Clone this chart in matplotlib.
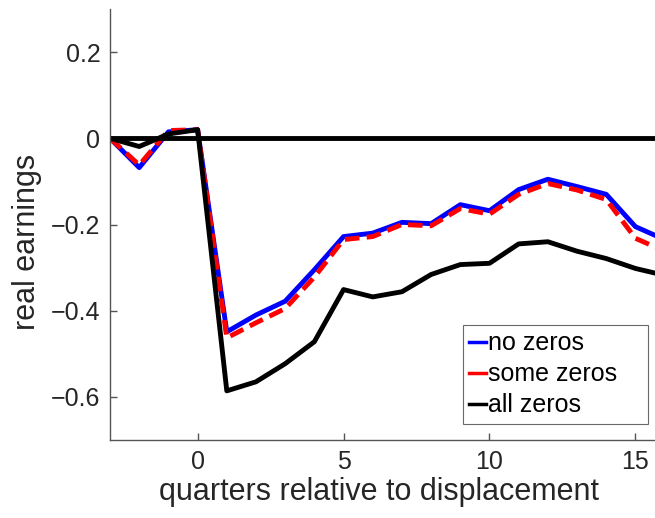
import matplotlib
matplotlib.use("Agg")
import matplotlib.pyplot as plt

# quarters relative to displacement
quarters = [-3, -2, -1, 0, 1, 2, 3, 4, 5, 6, 7, 8, 9, 10, 11, 12, 13, 14, 15, 16]

# real earnings
no_zeros = [0, -0.068, 0.015, 0.02, -0.449, -0.41, -0.378, -0.305, -0.228, -0.22,
            -0.195, -0.198, -0.154, -0.168, -0.119, -0.095, -0.112, -0.13, -0.205, -0.235]
some_zeros = [0, -0.062, 0.018, 0.02, -0.463, -0.428, -0.395, -0.322, -0.235, -0.228,
              -0.2, -0.203, -0.163, -0.176, -0.13, -0.105, -0.12, -0.142, -0.232, -0.262]
all_zeros = [0, -0.019, 0.01, 0.02, -0.586, -0.565, -0.523, -0.472, -0.351, -0.368,
             -0.356, -0.316, -0.293, -0.29, -0.245, -0.24, -0.262, -0.279, -0.302, -0.318]

plt.rcParams['font.family'] = ['Liberation Sans', 'DejaVu Sans']

fig = plt.figure(figsize=(6.55, 5.18), dpi=100)
ax = fig.add_axes([0.168, 0.1506, 0.832, 0.832])

ax.plot(quarters, no_zeros, color='#0000ff', lw=3.5, label='no zeros')
ax.plot(quarters, some_zeros, color='#ff0000', lw=3.5, ls=(0, (3, 1.5)), label='some zeros')
ax.plot(quarters, all_zeros, color='black', lw=3.5, label='all zeros')
ax.axhline(0, color='black', lw=3.5)

ax.set_xlim(-3, 15.67)
ax.set_ylim(-0.7, 0.3)
ax.set_xticks([0, 5, 10, 15])
ax.set_yticks([-0.6, -0.4, -0.2, 0, 0.2])
ax.set_yticklabels(['\u22120.6', '\u22120.4', '\u22120.2', '0', '0.2'])

for side in ['top', 'right']:
    ax.spines[side].set_visible(False)
for side in ['left', 'bottom']:
    ax.spines[side].set_color('#555555')
    ax.spines[side].set_linewidth(1.0)
ax.tick_params(direction='in', length=5, width=1, colors='#555555',
               labelcolor='#262626', labelsize=18, pad=7)

ax.set_xlabel('quarters relative to displacement', fontsize=22, color='#262626')
ax.xaxis.set_label_coords(0.493, -0.085)
ax.set_ylabel('real earnings', fontsize=22, color='#262626')
ax.yaxis.set_label_coords(-0.125, 0.46)

# legend box from pixel (463, 325) to (648, 423)
leg = ax.legend(loc='upper left', bbox_to_anchor=(463 / 655, 95 / 518, 185 / 655, 98 / 518),
                bbox_transform=fig.transFigure, mode='expand', fontsize=18, frameon=True,
                fancybox=False, handlelength=0.65, handletextpad=0.1,
                borderpad=0.25, labelspacing=0.28, borderaxespad=0)
leg.get_frame().set_edgecolor('#444444')
leg.get_frame().set_linewidth(0.8)
for line in leg.get_lines():
    line.set_linewidth(2.5)
    line.set_linestyle('-')

fig.savefig('out.png', dpi=100)
